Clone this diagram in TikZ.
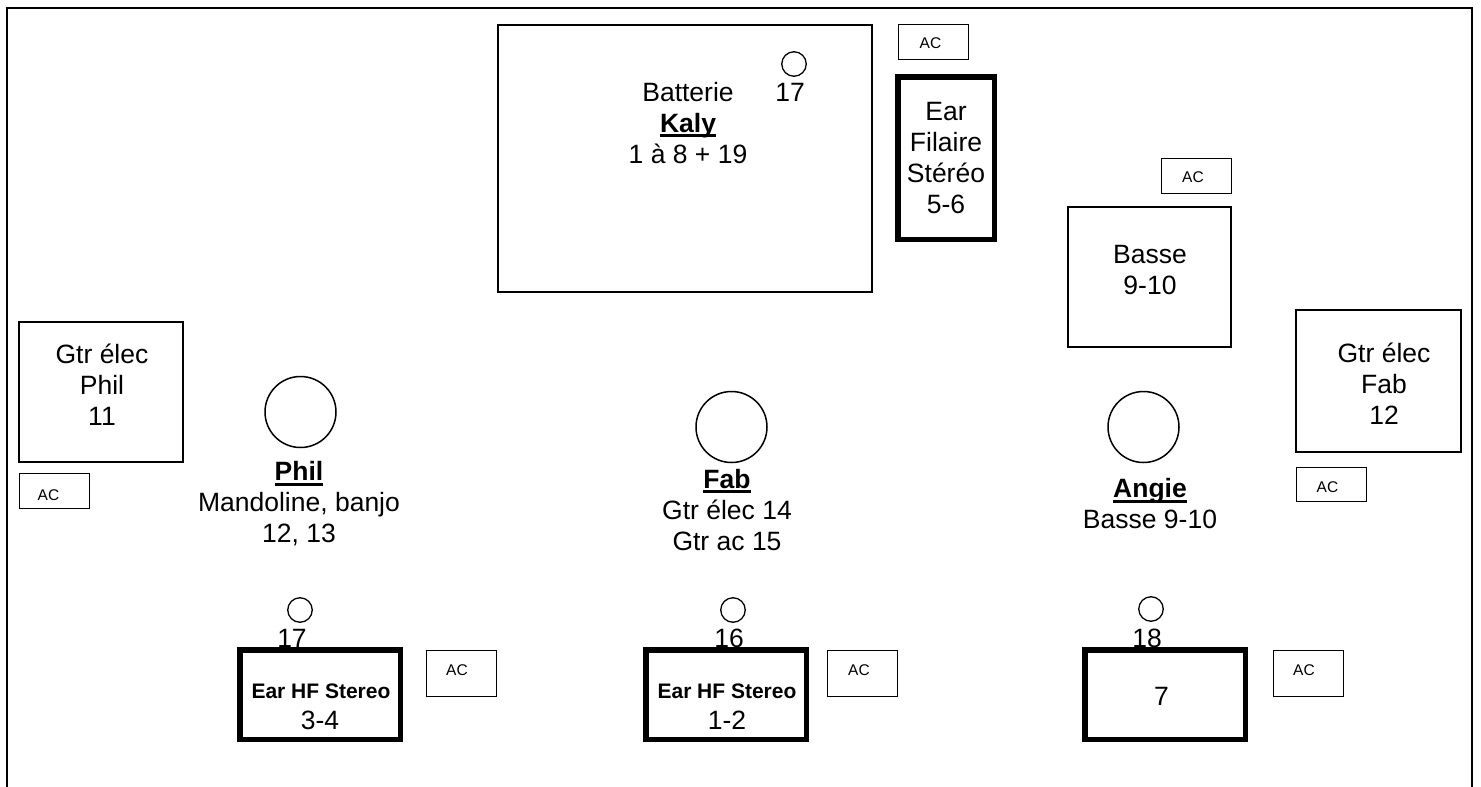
\documentclass[tikz,border=0pt]{standalone}
\usepackage{fontspec}
\setmainfont{Liberation Sans}
\usetikzlibrary{positioning}
\def\nom#1{\setbox0\hbox{\textbf{#1}}\rlap{\vrule width\wd0 height -2pt depth 5pt}\box0}

\begin{document}
\begin{tikzpicture}[x=1pt, y=-1pt,
  cadre/.style={draw, line width=1.8pt, inner sep=0pt},
  ecoute/.style={draw, line width=5.5pt, inner sep=0pt, font=\fontsize{26.5}{31}\selectfont, align=center},
  prise/.style={draw, line width=1pt, inner sep=0pt, minimum width=70pt},
  micro/.style={draw, circle, line width=1.5pt, inner sep=0pt, minimum size=71pt},
  pied/.style={draw, circle, line width=1.3pt, inner sep=0pt, minimum size=24.5pt},
  txt/.style={font=\fontsize{26.5}{31}\selectfont, align=center, inner sep=0pt},
  hf/.style={font=\bfseries\fontsize{21}{25}\selectfont, inner sep=0pt},
  actxt/.style={font=\fontsize{15.5}{18}\selectfont, inner sep=0pt}]
\useasboundingbox (0,0) rectangle (1481,787);

% scene
\draw[line width=2pt] (7,787) -- (7,7.5) -- (1472,7.5) -- (1472,787);

% batterie
\node[cadre, minimum width=374pt, minimum height=267pt] (batterie) at (685,158.5) {};
\node[txt] (kaly) at (688,123) {Batterie\\ \nom{Kaly}\\ 1 à 8 + 19};
\node[pied] (p-kaly) at (794,64) {};
\node[txt] (n-kaly) at (790,92) {17};
\node[prise, minimum height=35pt] (ac-kaly) at (933.5,42) {};
\node[actxt] at (930.5,43) {AC};
\node[ecoute, minimum width=96.5pt, minimum height=162.5pt] (ear-kaly) at (946,158) {Ear\\ Filaire\\ Stéréo\\ 5-6};

% amplis
\node[prise, minimum height=35pt] (ac-basse) at (1196.5,176) {};
\node[actxt] at (1193,177.5) {AC};
\node[cadre, minimum width=163pt, minimum height=140pt] (basse) at (1149.5,277) {};
\node[txt] (t-basse) at (1150,270.5) {Basse\\ 9-10};

\node[cadre, minimum width=164pt, minimum height=140pt] (gtr-phil) at (101,392) {};
\node[txt] (t-gtr-phil) at (102,385) {Gtr élec\\ Phil\\ 11};
\node[prise, minimum height=35pt] (ac-phil) at (54,491) {};
\node[actxt] at (48.5,495) {AC};

\node[cadre, minimum width=165pt, minimum height=142pt] (gtr-fab) at (1378.5,381) {};
\node[txt] (t-gtr-fab) at (1384,384) {Gtr élec\\ Fab\\ 12};
\node[prise, minimum height=34pt] (ac-fab) at (1331,484.5) {};
\node[actxt] at (1327.5,487.5) {AC};

% musiciens
\node[micro] (phil) at (300.5,412) {};
\node[txt] (t-phil) at (299,504) {\nom{Phil}\\ Mandoline, banjo\\ 12, 13};
\node[micro] (fab) at (731.5,427) {};
\node[txt] (t-fab) at (727,510) {\nom{Fab}\\ Gtr élec 14\\ Gtr ac 15};
\node[micro] (angie) at (1143.5,427) {};
\node[txt] (t-angie) at (1150,504) {\nom{Angie}\\ Basse 9-10};

% retours
\node[pied] (p-phil) at (300,610) {};
\node[txt] (n-phil) at (292,638) {17};
\node[ecoute, minimum width=160.5pt, minimum height=89.5pt] (ear-phil) at (320,694.5) {};
\node[hf] at (321,691) {Ear HF Stereo};
\node[txt] at (320,720) {3-4};
\node[prise, minimum height=46pt] (ac-ear-phil) at (461.5,673.5) {};
\node[actxt] at (457,670) {AC};

\node[pied] (p-fab) at (733,610) {};
\node[txt] (n-fab) at (729,638) {16};
\node[ecoute, minimum width=160.5pt, minimum height=89.5pt] (ear-fab) at (726,694.5) {};
\node[hf] at (727,691) {Ear HF Stereo};
\node[txt] at (727,720) {1-2};
\node[prise, minimum height=46pt] (ac-ear-fab) at (862.5,673.5) {};
\node[actxt] at (859,670) {AC};

\node[pied] (p-angie) at (1151,609) {};
\node[txt] (n-angie) at (1147,638) {18};
\node[ecoute, minimum width=160.5pt, minimum height=89.5pt] (ear-angie) at (1165,694.5) {};
\node[txt] at (1161.5,696) {7};
\node[prise, minimum height=46pt] (ac-ear-angie) at (1308,673.5) {};
\node[actxt] at (1304,670) {AC};
\end{tikzpicture}
\end{document}
